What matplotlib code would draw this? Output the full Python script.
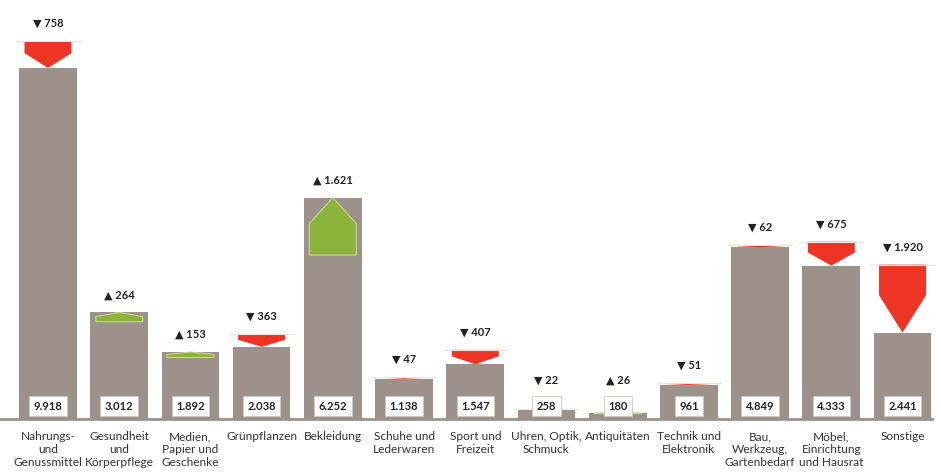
import matplotlib
matplotlib.use("Agg")
import matplotlib.pyplot as plt
from matplotlib.patches import Polygon

categories = ["Nahrungs-\nund\nGenussmittel", "Gesundheit\nund\nKörperpflege",
              "Medien,\nPapier und\nGeschenke", "Grünpflanzen", "Bekleidung",
              "Schuhe und\nLederwaren", "Sport und\nFreizeit", "Uhren, Optik,\nSchmuck",
              "Antiquitäten", "Technik und\nElektronik", "Bau,\nWerkzeug,\nGartenbedarf",
              "Möbel,\nEinrichtung\nund Hausrat", "Sonstige"]
values = [9918, 3012, 1892, 2038, 6252, 1138, 1547, 258, 180, 961, 4849, 4333, 2441]
changes = [-758, 264, 153, -363, 1621, -47, -407, -22, 26, -51, -62, -675, -1920]
value_labels = ["9.918", "3.012", "1.892", "2.038", "6.252", "1.138", "1.547",
                "258", "180", "961", "4.849", "4.333", "2.441"]
change_labels = ["758", "264", "153", "363", "1.621", "47", "407", "22", "26",
                 "51", "62", "675", "1.920"]

GREY = "#9d918b"
RED = "#ee3424"
GREEN = "#8cb43c"
FONT = ["Lato", "DejaVu Sans"]

fig = plt.figure(figsize=(9.41, 4.72), dpi=100)
ax = fig.add_axes([0, 0, 1, 1])
ax.set_xlim(-0.674, 12.54)
ax.set_ylim(-1497, 11836)
ax.axis("off")

x = list(range(len(values)))
ax.bar(x, values, width=0.81, color=GREY, zorder=2)
ax.axhline(0, xmin=0.0, xmax=0.99, color=GREY, lw=2.0, zorder=2)

aw = 0.66
for i, (v, d) in enumerate(zip(values, changes)):
    h = abs(d)
    if d < 0:
        prev = v + h
        mid = prev - 0.45 * h
        pts = [(i - aw / 2, prev), (i + aw / 2, prev), (i + aw / 2, mid), (i, v), (i - aw / 2, mid)]
        ax.add_patch(Polygon(pts, closed=True, fc=RED, ec="none", zorder=3))
        ax.plot([i - 0.45, i + 0.45], [prev, prev], color="#ebe4e0", lw=0.8, zorder=3)
        top = prev
        sym = "▼"
    else:
        prev = v - h
        mid = prev + 0.55 * h
        pts = [(i - aw / 2, prev), (i + aw / 2, prev), (i + aw / 2, mid), (i, v), (i - aw / 2, mid)]
        ax.add_patch(Polygon(pts, closed=True, fc=GREEN, ec="#c9d98a", lw=0.8, zorder=3))
        top = v
        sym = "▲"
    # change label above
    ax.text(i, max(top, 600) + 500, f"{sym} {change_labels[i]}", ha="center", va="center",
            fontsize=8, fontweight="bold", family=FONT, color="#222222", zorder=5,
            bbox=dict(boxstyle="round,pad=0.45", fc="white", ec="none"))
    # value box in bar
    ax.text(i, 367, value_labels[i], ha="center", va="center", fontsize=8,
            fontweight="bold", family=FONT, color="#222222", zorder=5,
            bbox=dict(boxstyle="square,pad=0.4", fc="white", ec="#cfc8c4", lw=0.6))
    # category label below
    ax.text(i, -340, categories[i], ha="center", va="top", fontsize=8.6,
            family=FONT, color="#333333", linespacing=1.2, zorder=5)

fig.savefig("out.png", dpi=100, facecolor="white")
